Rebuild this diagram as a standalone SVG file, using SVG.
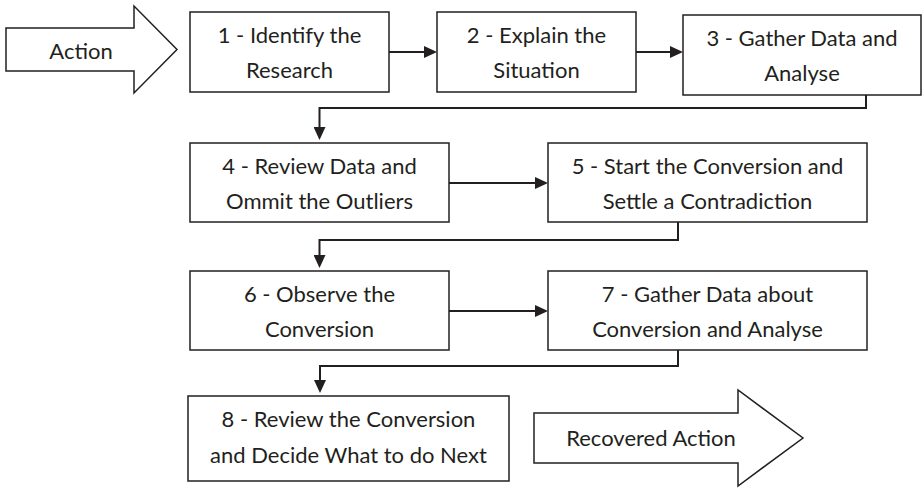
<svg xmlns="http://www.w3.org/2000/svg" width="922" height="488" viewBox="0 0 922 488">
<style>
.box{fill:#fff;stroke:#231f20;stroke-width:1.5}
.blk{fill:#fff;stroke:#231f20;stroke-width:1.5;stroke-linejoin:miter}
.t{font-family:Lato,"Liberation Sans",sans-serif;font-size:22px;fill:#231f20;text-anchor:middle}
.c{fill:none;stroke:#231f20;stroke-width:2}
</style>
<defs>
<marker id="ah" markerUnits="userSpaceOnUse" markerWidth="13" markerHeight="12" refX="9" refY="6" orient="auto">
<path d="M0,0 L13,6 L0,12 z" fill="#231f20"/>
</marker>
</defs>
<rect width="922" height="488" fill="#fff"/>
<g id="connectors">
<path class="c" d="M389,52 H433" marker-end="url(#ah)"/>
<path class="c" d="M636,52 H679" marker-end="url(#ah)"/>
<path class="c" d="M866,95 V108 H319.5 V136" marker-end="url(#ah)"/>
<path class="c" d="M449,183 H544" marker-end="url(#ah)"/>
<path class="c" d="M678,222 V240 H319.5 V264" marker-end="url(#ah)"/>
<path class="c" d="M449,311 H544" marker-end="url(#ah)"/>
<path class="c" d="M678,350 V366 H320 V389" marker-end="url(#ah)"/>
</g>
<g id="action">
<polygon class="blk" points="6,28 134,28 134,6 177,49.5 134,93 134,71 6,71"/>
<text class="t" x="81" y="59">Action</text>
</g>
<g id="n1">
<rect class="box" x="190" y="12" width="199" height="80"/>
<text class="t" x="289.5" y="43">1 - Identify the</text>
<text class="t" x="289.5" y="78">Research</text>
</g>
<g id="n2">
<rect class="box" x="437" y="12" width="199" height="80"/>
<text class="t" x="536.5" y="43">2 - Explain the</text>
<text class="t" x="536.5" y="78">Situation</text>
</g>
<g id="n3">
<rect class="box" x="683" y="15" width="238" height="80"/>
<text class="t" x="802" y="46">3 - Gather Data and</text>
<text class="t" x="802" y="81">Analyse</text>
</g>
<g id="n4">
<rect class="box" x="190" y="143" width="259" height="79"/>
<text class="t" x="319.5" y="174">4 - Review Data and</text>
<text class="t" x="319.5" y="209">Ommit the Outliers</text>
</g>
<g id="n5">
<rect class="box" x="548" y="143" width="319" height="79"/>
<text class="t" x="707.5" y="174">5 - Start the Conversion and</text>
<text class="t" x="707.5" y="209">Settle a Contradiction</text>
</g>
<g id="n6">
<rect class="box" x="190" y="271" width="259" height="79"/>
<text class="t" x="319.5" y="302">6 - Observe the</text>
<text class="t" x="319.5" y="337">Conversion</text>
</g>
<g id="n7">
<rect class="box" x="548" y="271" width="319" height="79"/>
<text class="t" x="707.5" y="302">7 - Gather Data about</text>
<text class="t" x="707.5" y="337">Conversion and Analyse</text>
</g>
<g id="n8">
<rect class="box" x="188" y="396" width="321" height="85"/>
<text class="t" x="348.5" y="427">8 - Review the Conversion</text>
<text class="t" x="348.5" y="463">and Decide What to do Next</text>
</g>
<g id="recovered">
<polygon class="blk" points="534,413 738,413 738,390 803,438 738,486 738,463 534,463"/>
<text class="t" x="651" y="446">Recovered Action</text>
</g>
</svg>
